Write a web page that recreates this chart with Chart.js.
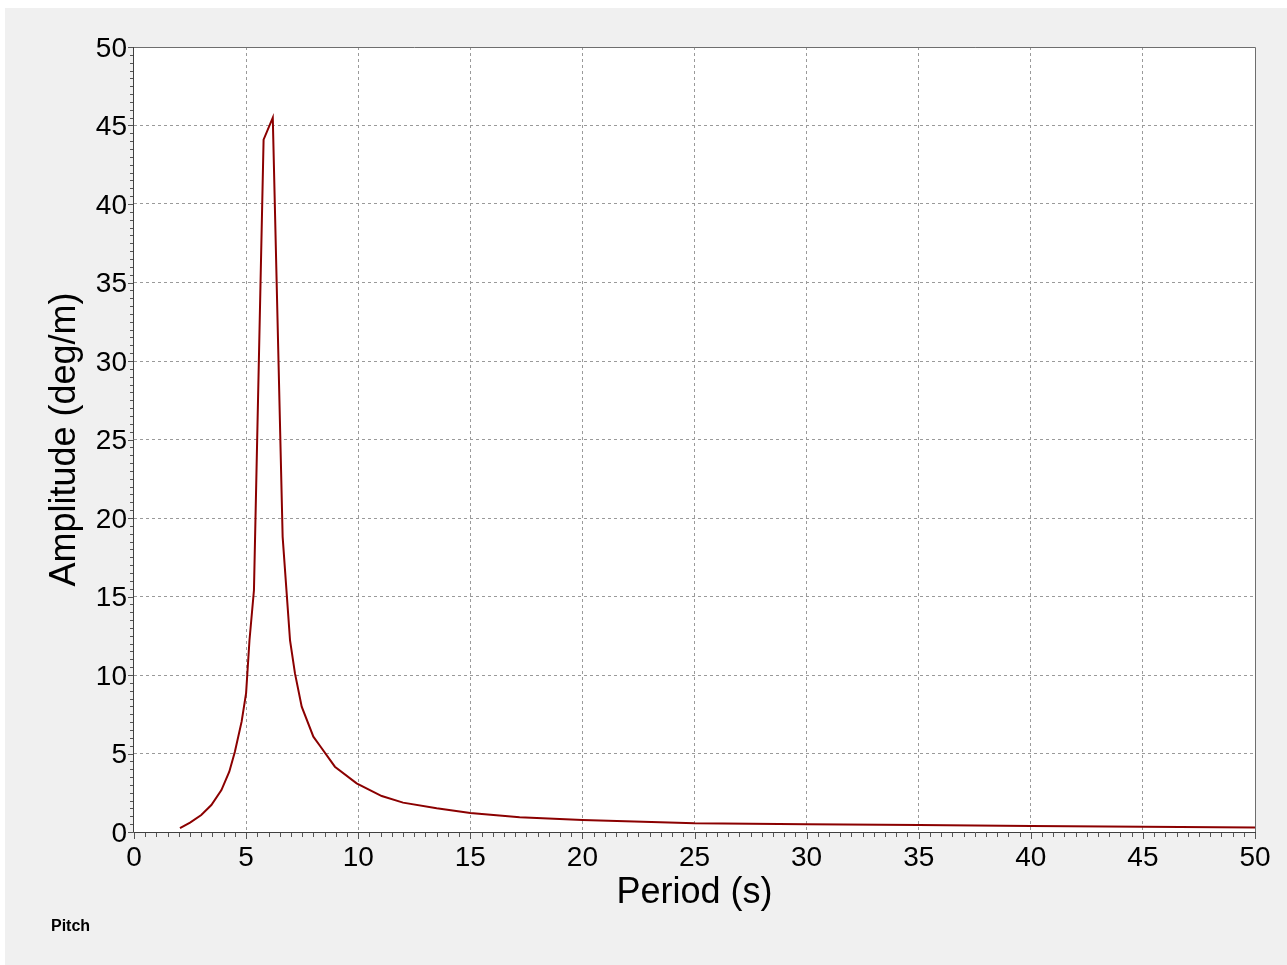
<!DOCTYPE html>
<html>
<head>
<meta charset="utf-8">
<title>Pitch RAO</title>
<script src="https://cdn.jsdelivr.net/npm/chart.js@4.4.1/dist/chart.umd.min.js"></script>
<style>
  html, body { margin: 0; padding: 0; background: #ffffff; overflow: hidden; }
  canvas { display: block; }
</style>
</head>
<body>
<canvas id="raoChart" width="1287" height="965"></canvas>
<script>
// Pitch response amplitude vs wave period
const periods = [2.05, 2.5, 3.0, 3.45, 3.9, 4.25, 4.5, 4.8, 5.0, 5.15, 5.35, 5.78, 6.19,
    6.63, 6.96, 7.18, 7.48, 8.0, 8.3, 8.96, 9.93, 11.05, 12.0, 13.5, 15.0, 17.2,
    20.0, 25.0, 30.0, 35.0, 40.0, 45.0, 50.0];
const pitchAmplitude = [0.25, 0.6, 1.08, 1.72, 2.67, 3.84, 5.11, 7.03, 8.85, 12.2, 15.4, 44.1, 45.5,
    18.8, 12.2, 10.1, 7.98, 6.07, 5.48, 4.16, 3.1, 2.29, 1.87, 1.51, 1.21, 0.94,
    0.76, 0.55, 0.5, 0.44, 0.38, 0.33, 0.29];
const periodTicks = [0, 5, 10, 15, 20, 25, 30, 35, 40, 45, 50];
const amplitudeTicks = [0, 5, 10, 15, 20, 25, 30, 35, 40, 45, 50];

const FONT = '"Liberation Sans", Arial, sans-serif';

// panel background, axis frame, minor tick marks and the footer label
const framePlugin = {
    id: 'frame',
    beforeDraw(chart) {
        const { ctx, width, height, chartArea: a } = chart;
        ctx.save();
        ctx.fillStyle = '#ffffff';
        ctx.fillRect(0, 0, width, height);
        ctx.fillStyle = '#f0f0f0';
        ctx.fillRect(5, 8, width - 5, height - 8);
        ctx.fillStyle = '#ffffff';
        ctx.fillRect(a.left, a.top, a.right - a.left, a.bottom - a.top);
        ctx.restore();
    },
    afterDraw(chart) {
        const { ctx, chartArea: a } = chart;
        const xs = chart.scales.x;
        const ys = chart.scales.y;
        ctx.save();
        ctx.lineWidth = 1;

        // top / right border
        ctx.strokeStyle = '#6e6e6e';
        ctx.beginPath();
        ctx.moveTo(a.left, a.top + 0.5);
        ctx.lineTo(a.right + 0.5, a.top + 0.5);
        ctx.lineTo(a.right + 0.5, a.bottom);
        ctx.stroke();

        // axis lines
        ctx.strokeStyle = '#404040';
        ctx.beginPath();
        ctx.moveTo(a.left - 0.5, a.top);
        ctx.lineTo(a.left - 0.5, a.bottom + 0.5);
        ctx.lineTo(a.right + 1, a.bottom + 0.5);
        ctx.stroke();

        // tick marks every half unit, longer on the labelled ones
        ctx.strokeStyle = '#555555';
        ctx.beginPath();
        for (let i = 0; i <= 100; i++) {
            const v = i / 2;
            const major = i % 10 === 0;
            const px = Math.round(xs.getPixelForValue(v)) + 0.5;
            ctx.moveTo(px, a.bottom + 1);
            ctx.lineTo(px, a.bottom + (major ? 7 : 5));
            const py = Math.round(ys.getPixelForValue(v)) + 0.5;
            ctx.moveTo(a.left - 1, py);
            ctx.lineTo(a.left - (major ? 6 : 4), py);
        }
        ctx.stroke();

        ctx.fillStyle = '#000000';
        ctx.font = 'bold 16px ' + FONT;
        ctx.textBaseline = 'middle';
        ctx.textAlign = 'left';
        ctx.fillText('Pitch', 51, 927);
        ctx.restore();
    }
};

const ctx = document.getElementById('raoChart').getContext('2d');
const chart = new Chart(ctx, {
    type: 'line',
    data: {
        datasets: [{
            label: 'Pitch',
            data: periods.map((p, i) => ({ x: p, y: pitchAmplitude[i] })),
            borderColor: '#8b0000',
            borderWidth: 2,
            pointRadius: 0,
            tension: 0,
            fill: false
        }]
    },
    options: {
        responsive: false,
        devicePixelRatio: 1,
        animation: false,
        layout: { padding: { left: 0, top: 47, right: 32, bottom: 0 } },
        plugins: {
            legend: { display: false },
            tooltip: { enabled: false }
        },
        scales: {
            x: {
                type: 'linear',
                min: 0,
                max: 50,
                afterBuildTicks: (scale) => { scale.ticks = periodTicks.map(v => ({ value: v })); },
                afterFit: (scale) => { scale.height = 133; },
                grid: {
                    color: (c) => (c.tick && c.tick.value > 0 && c.tick.value < 50) ? '#9a9a9a' : 'rgba(0,0,0,0)',
                    lineWidth: 1,
                    drawTicks: true,
                    tickLength: 7,
                    tickColor: 'rgba(0,0,0,0)'
                },
                border: { display: false, dash: [3, 3] },
                ticks: {
                    color: '#000000',
                    padding: 2,
                    maxRotation: 0,
                    autoSkip: false,
                    font: { family: FONT, size: 28 }
                },
                title: {
                    display: true,
                    text: 'Period (s)',
                    color: '#000000',
                    font: { family: FONT, size: 36 },
                    padding: { top: 0, bottom: 50 }
                }
            },
            y: {
                type: 'linear',
                min: 0,
                max: 50,
                afterBuildTicks: (scale) => { scale.ticks = amplitudeTicks.map(v => ({ value: v })); },
                afterFit: (scale) => { scale.width = 134; },
                grid: {
                    color: (c) => (c.tick && c.tick.value > 0 && c.tick.value < 50) ? '#9a9a9a' : 'rgba(0,0,0,0)',
                    lineWidth: 1,
                    drawTicks: true,
                    tickLength: 5,
                    tickColor: 'rgba(0,0,0,0)'
                },
                border: { display: false, dash: [3, 3] },
                ticks: {
                    color: '#000000',
                    padding: 2,
                    labelOffset: 2,
                    autoSkip: false,
                    font: { family: FONT, size: 28 }
                },
                title: {
                    display: true,
                    text: 'Amplitude (deg/m)',
                    color: '#000000',
                    font: { family: FONT, size: 36 },
                    padding: { top: 43, bottom: 0 }
                }
            }
        }
    },
    plugins: [framePlugin]
});
</script>
</body>
</html>
